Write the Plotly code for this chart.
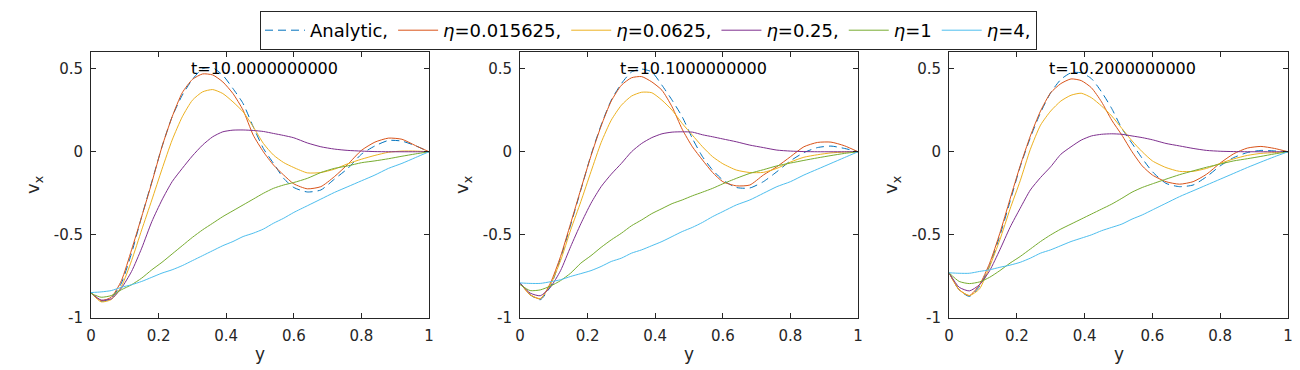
import plotly.graph_objects as go

# 共用网格
y_grid = [0, .03, .06, .09, .12, .15, .18, .21, .24, .27, .3, .33, .36, .39, .42,
          .45, .48, .51, .54, .57, .6, .64, .68, .72, .76, .8, .84, .88, .92, .96, 1.0]

times = ['t=10.0000000000', 't=10.1000000000', 't=10.2000000000']
series_names = ['Analytic,', '<i>η</i>=0.015625,', '<i>η</i>=0.0625,',
                '<i>η</i>=0.25,', '<i>η</i>=1', '<i>η</i>=4,']
colors = ['#0072BD', '#D95319', '#EDB120', '#7E2F8E', '#77AC30', '#4DBEEE']

# t=10.0
p1_analytic = [-0.849, -0.9, -0.88, -0.79, -0.61, -0.39, -0.18, 0.03, 0.21, 0.34, 0.435, 0.5, 0.505, 0.46, 0.38,
               0.29, 0.15, 0.02, -0.07, -0.16, -0.215, -0.242, -0.23, -0.165, -0.1, -0.015, 0.035, 0.068, 0.064, 0.036, 0]
p1_eta1 = [-0.849, -0.895, -0.875, -0.775, -0.59, -0.39, -0.185, 0.03, 0.21, 0.355, 0.435, 0.468, 0.462, 0.42, 0.35,
           0.25, 0.1, 0.0, -0.08, -0.14, -0.193, -0.223, -0.21, -0.15, -0.075, 0.008, 0.058, 0.082, 0.075, 0.037, 0]
p1_eta2 = [-0.849, -0.903, -0.889, -0.81, -0.655, -0.47, -0.29, -0.105, 0.07, 0.21, 0.31, 0.36, 0.374, 0.35, 0.3,
           0.24, 0.15, 0.05, -0.02, -0.065, -0.095, -0.127, -0.125, -0.105, -0.072, -0.045, -0.022, -0.003, 0.004, 0.004, 0]
p1_eta3 = [-0.849, -0.892, -0.885, -0.82, -0.72, -0.58, -0.42, -0.29, -0.18, -0.1, -0.025, 0.04, 0.09, 0.12, 0.13,
           0.131, 0.128, 0.122, 0.11, 0.098, 0.084, 0.053, 0.03, 0.016, 0.008, 0.004, 0.001, 0, 0, 0, 0]
p1_eta4 = [-0.852, -0.875, -0.865, -0.83, -0.8, -0.76, -0.71, -0.665, -0.615, -0.565, -0.515, -0.47, -0.43, -0.39, -0.355,
           -0.32, -0.285, -0.25, -0.22, -0.2, -0.185, -0.16, -0.125, -0.1, -0.085, -0.066, -0.055, -0.042, -0.027, -0.013, 0]
p1_eta5 = [-0.847, -0.843, -0.835, -0.815, -0.8, -0.78, -0.755, -0.73, -0.71, -0.685, -0.655, -0.625, -0.595, -0.565, -0.54,
           -0.51, -0.49, -0.465, -0.43, -0.4, -0.365, -0.325, -0.285, -0.245, -0.21, -0.175, -0.14, -0.1, -0.07, -0.035, 0]

# t=10.1
p2_analytic = [-0.789, -0.86, -0.89, -0.81, -0.64, -0.44, -0.23, -0.02, 0.16, 0.31, 0.41, 0.48, 0.497, 0.48, 0.4,
               0.31, 0.21, 0.08, -0.03, -0.11, -0.17, -0.215, -0.218, -0.18, -0.12, -0.055, -0.005, 0.025, 0.034, 0.02, 0]
p2_eta1 = [-0.789, -0.86, -0.885, -0.79, -0.63, -0.43, -0.225, -0.025, 0.155, 0.305, 0.4, 0.445, 0.452, 0.42, 0.37,
           0.27, 0.135, 0.03, -0.05, -0.125, -0.18, -0.205, -0.2, -0.14, -0.09, -0.03, 0.03, 0.056, 0.058, 0.036, 0]
p2_eta2 = [-0.789, -0.86, -0.883, -0.8, -0.655, -0.47, -0.3, -0.12, 0.055, 0.19, 0.28, 0.335, 0.358, 0.355, 0.31,
           0.25, 0.17, 0.1, 0.03, -0.03, -0.072, -0.11, -0.125, -0.124, -0.1, -0.062, -0.033, -0.018, -0.007, -0.002, 0]
p2_eta3 = [-0.789, -0.85, -0.866, -0.815, -0.715, -0.57, -0.433, -0.31, -0.21, -0.135, -0.07, 0.0, 0.05, 0.085, 0.108,
           0.118, 0.12, 0.118, 0.102, 0.09, 0.077, 0.06, 0.04, 0.025, 0.01, 0.004, 0.001, 0, 0, 0, 0]
p2_eta4 = [-0.799, -0.835, -0.831, -0.808, -0.775, -0.73, -0.67, -0.625, -0.575, -0.53, -0.49, -0.445, -0.41, -0.372, -0.342,
           -0.312, -0.29, -0.265, -0.243, -0.22, -0.193, -0.16, -0.13, -0.108, -0.085, -0.068, -0.052, -0.037, -0.023, -0.01, 0]
p2_eta5 = [-0.789, -0.792, -0.792, -0.782, -0.77, -0.75, -0.733, -0.715, -0.69, -0.66, -0.64, -0.61, -0.59, -0.565, -0.54,
           -0.51, -0.48, -0.455, -0.425, -0.39, -0.36, -0.32, -0.29, -0.25, -0.21, -0.18, -0.14, -0.105, -0.07, -0.035, 0]

# t=10.2
p3_analytic = [-0.728, -0.83, -0.87, -0.81, -0.685, -0.505, -0.3, -0.09, 0.085, 0.235, 0.355, 0.435, 0.475, 0.475, 0.44,
               0.36, 0.26, 0.14, 0.05, -0.04, -0.12, -0.19, -0.21, -0.2, -0.15, -0.085, -0.035, -0.005, 0.008, 0.005, 0]
p3_eta1 = [-0.728, -0.83, -0.865, -0.8, -0.67, -0.49, -0.285, -0.085, 0.095, 0.245, 0.355, 0.41, 0.438, 0.428, 0.385,
           0.3, 0.19, 0.1, 0.0, -0.085, -0.14, -0.18, -0.195, -0.18, -0.135, -0.068, -0.012, 0.022, 0.032, 0.02, 0]
p3_eta2 = [-0.728, -0.83, -0.865, -0.825, -0.69, -0.53, -0.345, -0.175, 0.015, 0.16, 0.245, 0.305, 0.34, 0.352, 0.325,
           0.275, 0.215, 0.14, 0.065, 0.0, -0.055, -0.095, -0.118, -0.118, -0.1, -0.07, -0.043, -0.022, -0.01, -0.005, 0]
p3_eta3 = [-0.728, -0.815, -0.837, -0.8, -0.715, -0.59, -0.455, -0.34, -0.23, -0.155, -0.09, -0.015, 0.03, 0.07, 0.095,
           0.105, 0.108, 0.105, 0.095, 0.085, 0.072, 0.05, 0.035, 0.02, 0.008, 0.003, 0.001, 0, 0, 0, 0]
p3_eta4 = [-0.728, -0.78, -0.793, -0.783, -0.755, -0.715, -0.67, -0.63, -0.585, -0.54, -0.5, -0.465, -0.435, -0.405, -0.375,
           -0.345, -0.315, -0.28, -0.243, -0.215, -0.193, -0.165, -0.138, -0.115, -0.093, -0.074, -0.055, -0.042, -0.028, -0.013, 0]
p3_eta5 = [-0.728, -0.731, -0.731, -0.72, -0.71, -0.695, -0.682, -0.665, -0.64, -0.61, -0.59, -0.565, -0.54, -0.52, -0.5,
           -0.475, -0.455, -0.435, -0.405, -0.38, -0.35, -0.31, -0.27, -0.235, -0.2, -0.165, -0.13, -0.095, -0.062, -0.03, 0]

panels = [
    [p1_analytic, p1_eta1, p1_eta2, p1_eta3, p1_eta4, p1_eta5],
    [p2_analytic, p2_eta1, p2_eta2, p2_eta3, p2_eta4, p2_eta5],
    [p3_analytic, p3_eta1, p3_eta2, p3_eta3, p3_eta4, p3_eta5],
]

x_ticks = [0, 0.2, 0.4, 0.6, 0.8, 1]
x_ticktext = ['0', '0.2', '0.4', '0.6', '0.8', '1']
y_ticks = [-1, -0.5, 0, 0.5]
y_ticktext = ['-1', '-0.5', '0', '0.5']

# 页面 body 默认 8px 边距，图整体按此偏移
OFF = 8
W, H = 1300 - OFF, 370 - OFF


def px(v):
    return (v - OFF) / W


def py(v):
    return 1 - (v - OFF) / H


x_domains = [(91, 429), (520, 858), (949, 1288)]
y_top, y_bot = 52, 318

FONT = 'DejaVu Sans'
AX = '#262626'

fig = go.Figure()

for p, curves in enumerate(panels):
    xa = 'x' if p == 0 else f'x{p + 1}'
    ya = 'y' if p == 0 else f'y{p + 1}'
    for k, vals in enumerate(curves):
        fig.add_trace(go.Scatter(
            x=y_grid, y=vals, mode='lines',
            name=series_names[k], legendgroup=str(k), showlegend=(p == 0),
            line=dict(color=colors[k], width=1, shape='spline', smoothing=0.6,
                      dash='8px,5px' if k == 0 else 'solid'),
            xaxis=xa, yaxis=ya,
        ))

    x0, x1 = x_domains[p]
    axis_common = dict(showline=True, linecolor=AX, linewidth=1, mirror='ticks',
                       ticks='inside', ticklen=5, tickcolor=AX, showgrid=False,
                       zeroline=False, automargin=False,
                       tickfont=dict(family=FONT, size=15, color=AX))
    fig.layout[f'xaxis{"" if p == 0 else p + 1}'] = dict(
        domain=[px(x0), px(x1)], range=[0, 1], anchor=ya, ticklabelstandoff=4,
        tickvals=x_ticks, ticktext=x_ticktext, **axis_common)
    fig.layout[f'yaxis{"" if p == 0 else p + 1}'] = dict(
        domain=[py(y_bot), py(y_top)], range=[-1, 0.6], anchor=xa, ticklabelstandoff=4,
        tickvals=y_ticks, ticktext=y_ticktext, **axis_common)

    cx = (x0 + x1) / 2
    fig.add_annotation(text=times[p], x=px(cx + 4), y=py(69), xref='paper', yref='paper',
                       showarrow=False, xanchor='center', yanchor='middle',
                       font=dict(family=FONT, size=16, color='black'))
    fig.add_annotation(text='y', x=px(cx), y=py(354), xref='paper', yref='paper',
                       showarrow=False, xanchor='center', yanchor='middle',
                       font=dict(family=FONT, size=17, color=AX))
    fig.add_annotation(text='v<sub>x</sub>', x=px(x0 - 57), y=py(185), xref='paper', yref='paper',
                       showarrow=False, xanchor='center', yanchor='middle', textangle=-90,
                       font=dict(family=FONT, size=18, color=AX))

fig.update_layout(
    width=W, height=H,
    template='simple_white',
    margin=dict(l=0, r=0, t=0, b=0, autoexpand=False),
    paper_bgcolor='white', plot_bgcolor='white',
    font=dict(family=FONT, color=AX),
    legend=dict(orientation='h', x=px(648.5), y=py(11), xanchor='center', yanchor='top',
                bordercolor=AX, borderwidth=1, bgcolor='white',
                font=dict(family=FONT, size=18, color='black'),
                itemwidth=40, tracegroupgap=0),
)

fig.write_html('out.html')
